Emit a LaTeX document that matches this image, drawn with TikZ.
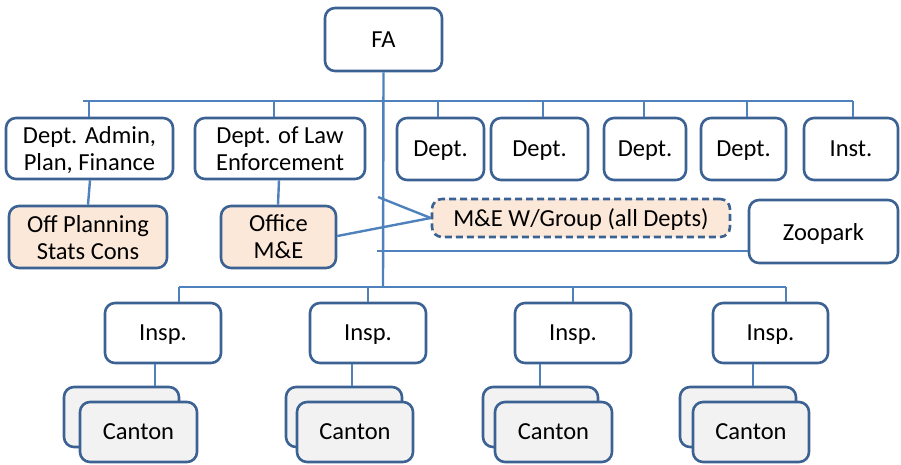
\documentclass[tikz,border=0pt]{standalone}
\usepackage{fontspec}
\setmainfont{Carlito}
\definecolor{boxblue}{RGB}{60,98,148}
\definecolor{lineblue}{RGB}{79,129,189}
\definecolor{peach}{RGB}{252,232,217}
\definecolor{cgray}{RGB}{242,242,242}
\begin{document}
\begin{tikzpicture}[x=1pt,y=-1pt,
  every node/.style={font=\fontsize{24.5}{27}\selectfont},
  orgbox/.style={draw=boxblue, line width=2.6pt, rounded corners=10pt, fill=white, align=center, inner sep=0pt, text depth=0pt},
  peachbox/.style={orgbox, fill=peach},
  cantonbox/.style={orgbox, fill=cgray},
  conn/.style={draw=lineblue, line width=2.4pt}]
\useasboundingbox (0,0) rectangle (901,464);
% top
\node[orgbox, minimum width=117pt, minimum height=63pt] (fa) at (383.5,39.5) {FA};
% departments
\node[orgbox, minimum width=167pt, minimum height=61pt] (adm) at (89.5,148.5) {Dept. Admin,\\Plan, Finance};
\node[orgbox, minimum width=170pt, minimum height=61pt] (law) at (280,148.5) {Dept. of Law\\Enforcement};
\node[orgbox, minimum width=87pt, minimum height=62pt] (d1) at (440.5,149) {Dept.};
\node[orgbox, minimum width=97pt, minimum height=62pt] (d2) at (539.5,149) {Dept.};
\node[orgbox, minimum width=82pt, minimum height=62pt] (d3) at (645,149) {Dept.};
\node[orgbox, minimum width=85pt, minimum height=62pt] (d4) at (743.5,149) {Dept.};
\node[orgbox, minimum width=94pt, minimum height=62pt] (inst) at (851,149) {Inst.};
% offices
\node[peachbox, minimum width=158pt, minimum height=62pt] (offp) at (88,237) {Off Planning\\Stats Cons};
\node[peachbox, minimum width=115pt, minimum height=62pt] (offme) at (278.5,237) {Office\\M\&E};
\node[peachbox, dashed, dash pattern=on 7pt off 4pt, minimum width=298pt, minimum height=38pt] (wg) at (581,218) {M\&E W/Group (all Depts)};
\node[orgbox, minimum width=149pt, minimum height=63pt] (zoo) at (823.5,231.5) {Zoopark};
% inspections
\node[orgbox, minimum width=116pt, minimum height=60pt] (i1) at (163,333) {Insp.};
\node[orgbox, minimum width=116pt, minimum height=60pt] (i2) at (368,333) {Insp.};
\node[orgbox, minimum width=116pt, minimum height=60pt] (i3) at (573,333) {Insp.};
\node[orgbox, minimum width=115pt, minimum height=60pt] (i4) at (770.5,333) {Insp.};
% cantons
\node[cantonbox, minimum width=115pt, minimum height=60pt] (cb1) at (121.5,417) {};
\node[cantonbox, minimum width=117pt, minimum height=60pt] (cf1) at (138.5,432) {Canton};
\node[cantonbox, minimum width=116pt, minimum height=60pt] (cb2) at (344,417) {};
\node[cantonbox, minimum width=116pt, minimum height=60pt] (cf2) at (355,432) {Canton};
\node[cantonbox, minimum width=115pt, minimum height=60pt] (cb3) at (540.5,417) {};
\node[cantonbox, minimum width=117pt, minimum height=60pt] (cf3) at (553.5,432) {Canton};
\node[cantonbox, minimum width=116pt, minimum height=60pt] (cb4) at (738,417) {};
\node[cantonbox, minimum width=116pt, minimum height=60pt] (cf4) at (751,432) {Canton};
% bus coordinates
\coordinate (busL) at (83,101);
\coordinate (busR) at (853,101);
\coordinate (ibusL) at (179,287);
\coordinate (ibusR) at (786,287);
\coordinate (trunkEnd) at (383,287);
\coordinate (wgA) at (378,197);
\coordinate (zooL) at (377,251);
% connectors
\draw[conn] (fa.south) -- (trunkEnd);
\draw[conn] (busL) -- (busR);
\draw[conn] (adm.north -| 89,0) -- (busL -| 89,0);
\draw[conn] (law.north -| 274,0) -- (busL -| 274,0);
\draw[conn] (d1.north -| 438,0) -- (busL -| 438,0);
\draw[conn] (d2.north -| 543,0) -- (busL -| 543,0);
\draw[conn] (d3.north -| 644,0) -- (busL -| 644,0);
\draw[conn] (d4.north -| 747,0) -- (busL -| 747,0);
\draw[conn] (inst.north -| 853,0) -- (busR);
\draw[conn] (adm.south -| 90,0) -- (offp.north -| 88,0);
\draw[conn] (law.south -| 279,0) -- (offme.north -| 278,0);
\draw[conn] (wgA) -- (wg.west);
\draw[conn] (offme.east |- 0,236) -- (wg.west);
\draw[conn] (zooL) -- (zoo.west |- zooL);
\draw[conn] (ibusL) -- (ibusR);
\draw[conn] (i1.north -| ibusL) -- (ibusL);
\draw[conn] (i2.north) -- (i2.north |- ibusL);
\draw[conn] (i3.north) -- (i3.north |- ibusL);
\draw[conn] (i4.north -| ibusR) -- (ibusR);
\draw[conn] (i1.south -| 155,0) -- (cb1.north -| 155,0);
\draw[conn] (i2.south -| 352,0) -- (cb2.north -| 352,0);
\draw[conn] (i3.south -| 540,0) -- (cb3.north -| 540,0);
\draw[conn] (i4.south -| 753,0) -- (cb4.north -| 753,0);
\end{tikzpicture}
\end{document}
